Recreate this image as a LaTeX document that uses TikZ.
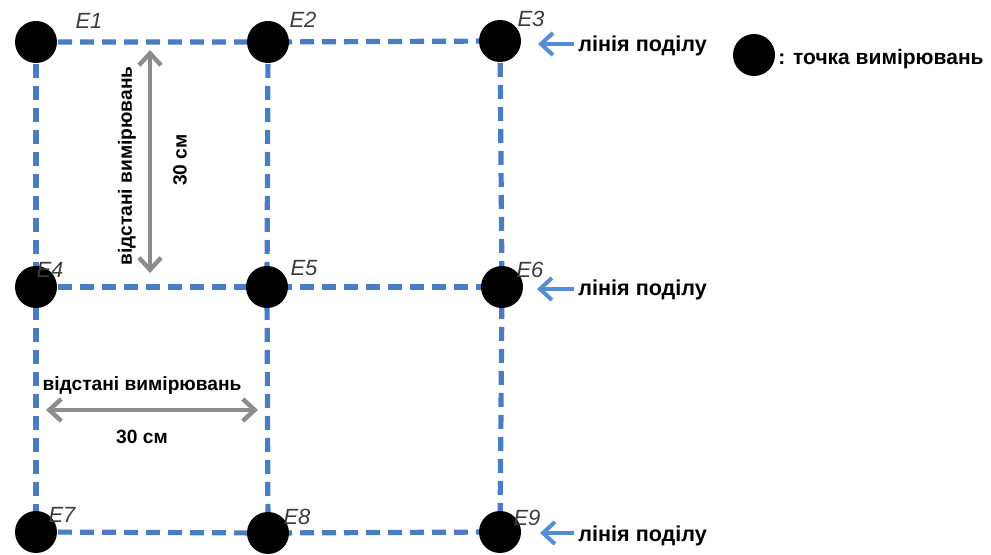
\documentclass[tikz,border=0pt]{standalone}
\usepackage{fontspec}
\setmainfont{Liberation Sans}
\usetikzlibrary{backgrounds,arrows.meta}
\definecolor{gridblue}{RGB}{74,124,196}
\definecolor{arrblue}{RGB}{86,140,210}
\definecolor{dimgray}{RGB}{140,140,140}
\definecolor{lblgray}{RGB}{60,60,60}
\tikzset{
  dot/.style={circle,fill=black,minimum size=21pt,inner sep=0pt},
  gridline/.style={draw=gridblue,line width=2.6pt,dash pattern=on 7pt off 4pt},
  elabel/.style={font=\fontsize{11}{11}\selectfont\itshape,text=lblgray,inner sep=0pt},
  txt/.style={font=\fontsize{10.8}{12}\selectfont\bfseries,text=black,inner sep=0pt},
  legtxt/.style={font=\fontsize{10.5}{12}\selectfont\bfseries,text=black,inner sep=0pt},
  dimtxt/.style={font=\fontsize{9.6}{12}\selectfont\bfseries,text=black,inner sep=0pt},
  bluearrow/.style={draw=arrblue,line width=2pt,-{Straight Barb[length=6pt,width=11pt]}},
  dimarrow/.style={draw=dimgray,line width=2.2pt,{Straight Barb[length=6pt,width=11pt]}-{Straight Barb[length=6pt,width=11pt]}}
}
\begin{document}
\begin{tikzpicture}[x=0.5pt,y=-0.5pt]
\useasboundingbox (0,0) rectangle (991,555);
% dots
\node[dot] (e1) at (36,42) {};
\node[dot] (e2) at (268,42) {};
\node[dot] (e3) at (500,41) {};
\node[dot] (e4) at (36,287) {};
\node[dot] (e5) at (267,287) {};
\node[dot] (e6) at (502,287) {};
\node[dot] (e7) at (36,532) {};
\node[dot] (e8) at (268,533) {};
\node[dot] (e9) at (500,532) {};
\node[dot] (leg) at (754,55) {};
% grid lines
\begin{scope}[on background layer]
\draw[gridline] (e1.center) -- (e2.center) -- (e3.center);
\draw[gridline] (e4.center) -- (e5.center) -- (e6.center);
\draw[gridline] (e7.center) -- (e8.center) -- (e9.center);
\draw[gridline] (e1.center) -- (e4.center) -- (e7.center);
\draw[gridline] (e2.center) -- (e5.center) -- (e8.center);
\draw[gridline] (e3.center) -- (e6.center) -- (e9.center);
\end{scope}
% E labels
\node[elabel] (l1) at (89,21) {E1};
\node[elabel] (l2) at (303,20) {E2};
\node[elabel] (l3) at (531,19) {E3};
\node[elabel] (l4) at (50,270) {E4};
\node[elabel] (l5) at (304,268) {E5};
\node[elabel] (l6) at (530,270) {E6};
\node[elabel] (l7) at (62,515) {E7};
\node[elabel] (l8) at (297,517) {E8};
\node[elabel] (l9) at (527,518) {E9};
% division lines
\node[txt,anchor=west] (d1) at (578,46) {лінія поділу};
\node[txt,anchor=west] (d2) at (578,290) {лінія поділу};
\node[txt,anchor=west] (d3) at (578,536) {лінія поділу};
\draw[bluearrow] (d1.west) ++(-4,-2) coordinate (a1) -- (538,44);
\draw[bluearrow] (d2.west) ++(-4,-1) coordinate (a2) -- (537,289);
\draw[bluearrow] (d3.west) ++(-4,-3) coordinate (a3) -- (540,533);
% legend
\node[legtxt,anchor=west] (legt) at (778,59) {: точка вимірювань};
% dimension arrows
\coordinate (v1) at (150,50);
\coordinate (v2) at (150,273);
\draw[dimarrow] (v1) -- (v2);
\node[dimtxt,rotate=90] (vt1) at (127,166) {відстані вимірювань};
\node[dimtxt,rotate=90] (vt2) at (180,160) {30 см};
\coordinate (h1) at (46,410);
\coordinate (h2) at (258,410);
\draw[dimarrow] (h1) -- (h2);
\node[dimtxt] (ht1) at (142,386) {відстані вимірювань};
\node[dimtxt] (ht2) at (142,437) {30 см};
\end{tikzpicture}
\end{document}
